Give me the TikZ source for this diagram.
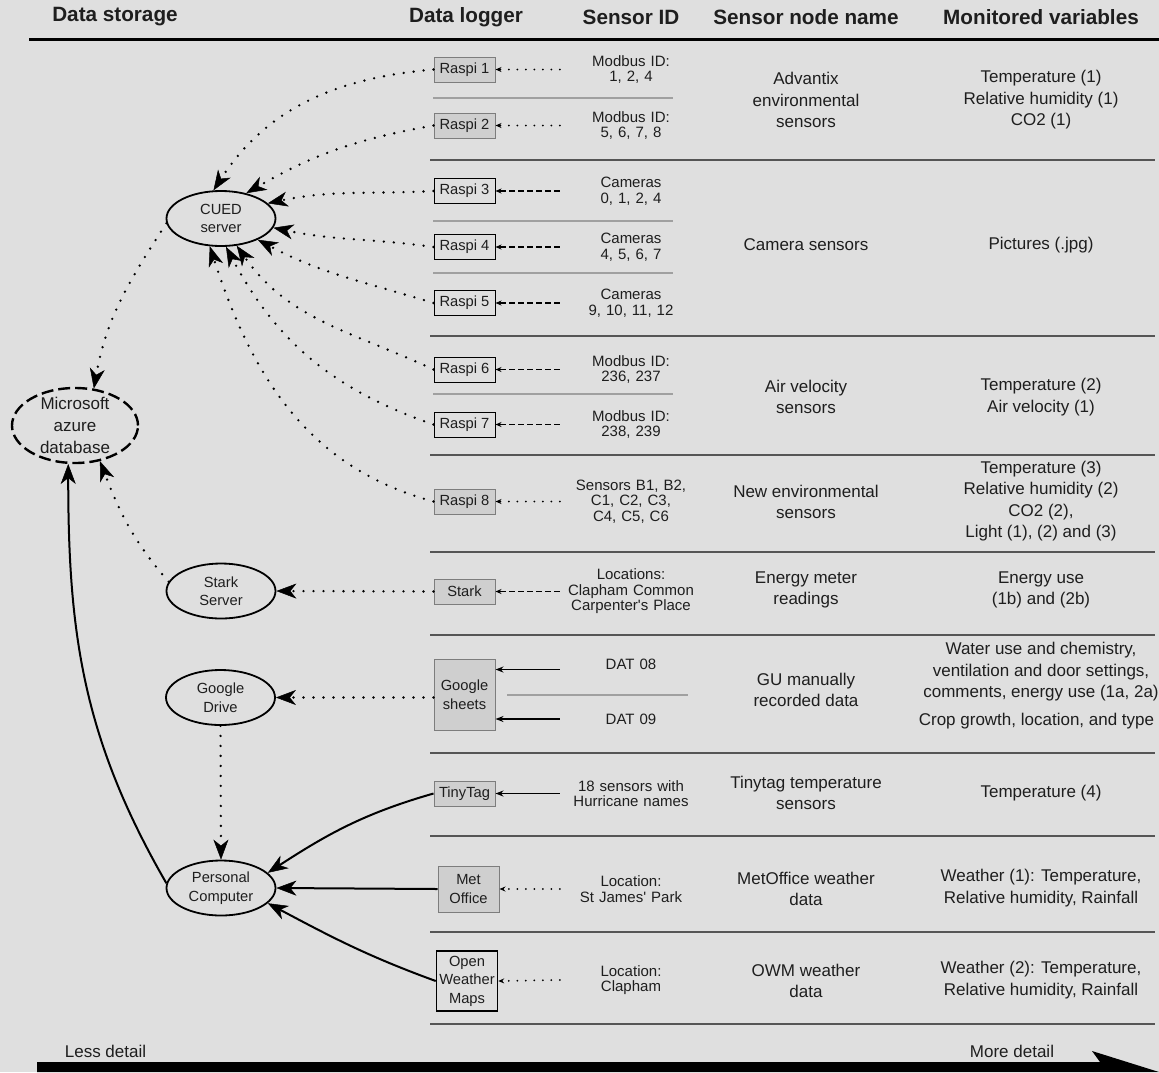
\documentclass[tikz,border=0pt]{standalone}
\usepackage{fontspec}
\setmainfont{Liberation Sans}
\usetikzlibrary{arrows.meta,shapes.geometric}

\definecolor{sheetbg}{RGB}{223,223,223}
\definecolor{boxfill}{RGB}{207,207,207}
\definecolor{boxline}{RGB}{125,125,125}
\definecolor{rowrule}{RGB}{85,85,85}
\definecolor{subrule}{RGB}{160,160,160}
\definecolor{ink}{RGB}{30,30,30}

\begin{document}
\begin{tikzpicture}[x=1pt,y=-1pt]
  \tikzset{colhead/.style={font=\fontsize{20.7}{24}\selectfont\bfseries,text=ink,inner sep=0pt}}
  \tikzset{store/.style={ellipse,draw=black,line width=1.8pt,minimum width=109pt,minimum height=55pt,inner sep=0pt,align=center,text=ink,font=\fontsize{14.7}{18.5}\selectfont}}
  \tikzset{logbox/.style={rectangle,draw=black,line width=1pt,minimum width=61pt,minimum height=25pt,inner sep=1pt,align=center,text=ink,font=\fontsize{14.7}{18.5}\selectfont}}
  \tikzset{logboxgray/.style={logbox,fill=boxfill,draw=boxline}}
  \tikzset{sensorid/.style={text width=142pt,align=center,inner sep=0pt,text=ink,font=\fontsize{15}{15.5}\selectfont}}
  \tikzset{infotext/.style={align=center,inner sep=0pt,text=ink,font=\fontsize{17}{21.5}\selectfont}}
  \tikzset{bighead/.style={-{Stealth[length=20pt,width=15pt,inset=6pt,line width=0.5pt,fill=black]}}}
  \tikzset{smallhead/.style={-{Stealth[length=6pt,width=5pt]}}}
  \tikzset{dotlink/.style={bighead,line width=2.6pt,line cap=round,dash pattern=on 0pt off 10pt}}
  \tikzset{solidlink/.style={bighead,line width=2pt}}
  \tikzset{feeddot/.style={smallhead,line width=2pt,line cap=round,dash pattern=on 0pt off 8.5pt}}
  \tikzset{feeddash/.style={smallhead,line width=1.5pt,dash pattern=on 6pt off 3pt}}
  \tikzset{feedsolid/.style={-{Stealth[length=8pt,width=6pt]},line width=1.8pt}}

  \fill[sheetbg] (0,0) rectangle (1159,1072);
  \useasboundingbox (0,0) rectangle (1159,1072);

  \node[colhead] (hstorage) at (115,17) {Data storage};
  \node[colhead] (hlogger) at (466,17) {Data logger};
  \node[colhead] (hsensor) at (631,17) {Sensor ID};
  \node[colhead] (hname) at (806,17) {Sensor node name};
  \node[colhead] (hvars) at (1041,17) {Monitored variables};
  \draw[line width=2.8pt] (29,39.3) -- (1159,39.3);

  \foreach \ry in {160,336,455,552,635,753,836,932,1024}
    \draw[rowrule,line width=1.5pt] (430,\ry) -- (1155,\ry);
  \foreach \ry in {98,221,273,394}
    \draw[subrule,line width=1.3pt] (433,\ry) -- (673,\ry);
  \draw[subrule,line width=1.3pt] (507,695) -- (688,695);

  \node[store] (cued) at (221,218.5) {CUED\\server};
  \node[store,line width=2.4pt,dash pattern=on 12pt off 5pt,minimum width=126pt,minimum height=75pt,inner ysep=-6pt,font=\fontsize{17}{22}\selectfont] (azure) at (75,425.5) {Microsoft\\azure\\database};
  \node[store] (starksrv) at (221,591) {Stark\\Server};
  \node[store] (drive) at (220.5,697.5) {Google\\Drive};
  \node[store] (pc) at (221,888) {Personal\\Computer};

  \node[logboxgray] (raspi1) at (464.5,69.5) {Raspi 1};
  \node[logboxgray] (raspi2) at (464.5,125.5) {Raspi 2};
  \node[logbox] (raspi3) at (464.5,191) {Raspi 3};
  \node[logbox] (raspi4) at (464.5,247) {Raspi 4};
  \node[logbox] (raspi5) at (464.5,303) {Raspi 5};
  \node[logbox] (raspi6) at (464.5,369.5) {Raspi 6};
  \node[logbox] (raspi7) at (464.5,424.5) {Raspi 7};
  \node[logboxgray] (raspi8) at (464.5,501.5) {Raspi 8};
  \node[logboxgray] (stark) at (464.5,591.5) {Stark};
  \node[logboxgray,minimum height=71pt] (sheets) at (464.5,694.5) {Google\\sheets};
  \node[logboxgray] (tinytag) at (464.5,793.5) {TinyTag};
  \node[logboxgray,minimum height=46pt] (metoffice) at (468.5,889) {Met\\Office};
  \node[logbox,line width=1.5pt,minimum height=60pt,inner sep=0pt] (owm) at (467,981) {Open\\Weather\\Maps};

  \node[sensorid] (id1) at (631,69.5) {Modbus ID:\\1, 2, 4};
  \node[sensorid] (id2) at (631,125.5) {Modbus ID:\\5, 6, 7, 8};
  \node[sensorid] (id3) at (631,191) {Cameras\\0, 1, 2, 4};
  \node[sensorid] (id4) at (631,247) {Cameras\\4, 5, 6, 7};
  \node[sensorid] (id5) at (631,303) {Cameras\\9, 10, 11, 12};
  \node[sensorid] (id6) at (631,369.5) {Modbus ID:\\236, 237};
  \node[sensorid] (id7) at (631,424.5) {Modbus ID:\\238, 239};
  \node[sensorid] (id8) at (631,501.5) {Sensors B1, B2,\\C1, C2, C3,\\C4, C5, C6};
  \node[sensorid] (idstark) at (631,591.5) {Locations:\\Clapham Common\\Carpenter\textquotesingle s Place};
  \node[sensorid] (dat08) at (631,664) {DAT 08};
  \node[sensorid] (dat09) at (631,719) {DAT 09};
  \node[sensorid] (idtiny) at (631,793.5) {18 sensors with\\Hurricane names};
  \node[sensorid] (idmet) at (631,889) {Location:\\St James\textquotesingle\ Park};
  \node[sensorid] (idowm) at (631,980) {Location:\\Clapham};

  \node[infotext] (name1) at (806,100) {Advantix\\environmental\\sensors};
  \node[infotext] (vars1) at (1041,100) {Temperature (1)\\Relative humidity (1)\\CO2 (1)};
  \node[infotext] (name2) at (806,245) {Camera sensors};
  \node[infotext] (vars2) at (1041,245) {Pictures (.jpg)};
  \node[infotext] (name3) at (806,397) {Air velocity\\sensors};
  \node[infotext] (vars3) at (1041,397) {Temperature (2)\\Air velocity (1)};
  \node[infotext] (name4) at (806,502) {New environmental\\sensors};
  \node[infotext] (vars4) at (1041,501) {Temperature (3)\\Relative humidity (2)\\CO2 (2),\\Light (1), (2) and (3)};
  \node[infotext] (name5) at (806,590) {Energy meter\\readings};
  \node[infotext] (vars5) at (1041,590) {Energy use\\(1b) and (2b)};
  \node[infotext] (name6) at (806,690) {GU manually\\recorded data};
  \node[infotext] (vars6) at (1041,672) {Water use and chemistry,\\ventilation and door settings,\\comments, energy use (1a, 2a)};
  \node[infotext] (vars6b) at (1036.5,721) {Crop growth, location, and type};
  \node[infotext] (name7) at (806,793) {Tinytag temperature\\sensors};
  \node[infotext] (vars7) at (1041,793) {Temperature (4)};
  \node[infotext] (name8) at (806,889) {MetOffice weather\\data};
  \node[infotext] (vars8) at (1041,888) {Weather (1): Temperature,\\Relative humidity, Rainfall};
  \node[infotext] (name9) at (806,981) {OWM weather\\data};
  \node[infotext] (vars9) at (1041,980) {Weather (2): Temperature,\\Relative humidity, Rainfall};

  \draw[feeddot] (id1.west) -- (raspi1.east);
  \draw[feeddot] (id2.west) -- (raspi2.east);
  \draw[feeddash] (id3.west) -- (raspi3.east);
  \draw[feeddash] (id4.west) -- (raspi4.east);
  \draw[feeddash] (id5.west) -- (raspi5.east);
  \draw[feeddash] (id6.west) -- (raspi6.east);
  \draw[feeddash] (id7.west) -- (raspi7.east);
  \draw[feeddot] (id8.west) -- (raspi8.east);
  \draw[feeddash] (idstark.west) -- (stark.east);
  \draw[feedsolid] (dat08.south west) -- (dat08.south west -| sheets.east);
  \draw[feedsolid] (dat09.west) -- (dat09.west -| sheets.east);
  \draw[feedsolid] (idtiny.west) -- (tinytag.east);
  \draw[feeddot] (idmet.west) -- (metoffice.east);
  \draw[feeddot] (idowm.west) -- (owm.east);

  \draw[dotlink] (raspi1.west) to[out=185,in=57] (cued.105);
  \draw[dotlink] (raspi2.west) to[out=190,in=30] (cued.45);
  \draw[dotlink] (raspi3.west) to[out=183,in=12] (cued.18);
  \draw[dotlink] (raspi4.west) to[out=172,in=-12] (cued.-10);
  \draw[dotlink] (raspi5.west) to[out=163,in=-28] (cued.-30);
  \draw[dotlink] (raspi6.west) to[out=155,in=-55] (cued.-60);
  \draw[dotlink] (raspi7.west) to[out=161,in=-62] (cued.-80);
  \draw[dotlink] (raspi8.west) to[out=165,in=-72] (cued.-112);
  \draw[dotlink] (cued.185) to[out=237,in=80] (azure.63);
  \draw[dotlink] (starksrv.170) to[out=131,in=-69] (azure.-55);
  \draw[solidlink] (pc.175) to[out=120,in=-90] (azure.-100);
  \draw[dotlink] (stark.west) -- (starksrv.east);
  \draw[dotlink] (drive.east -| sheets.west) -- (drive.east);
  \draw[dotlink] (drive.south) -- (pc.north);
  \draw[solidlink] (tinytag.west) to[out=196,in=33] (pc.18);
  \draw[solidlink] (metoffice.west) -- (pc.east);
  \draw[solidlink] (owm.west) to[out=160,in=-28] (pc.-18);

  \node[infotext] (lessdet) at (105.5,1051) {Less detail};
  \node[infotext] (moredet) at (1012,1051) {More detail};
  \fill[black] (37,1062) -- (1100,1062) -- (1092,1051) -- (1159,1072) -- (37,1072) -- cycle;
\end{tikzpicture}
\end{document}
